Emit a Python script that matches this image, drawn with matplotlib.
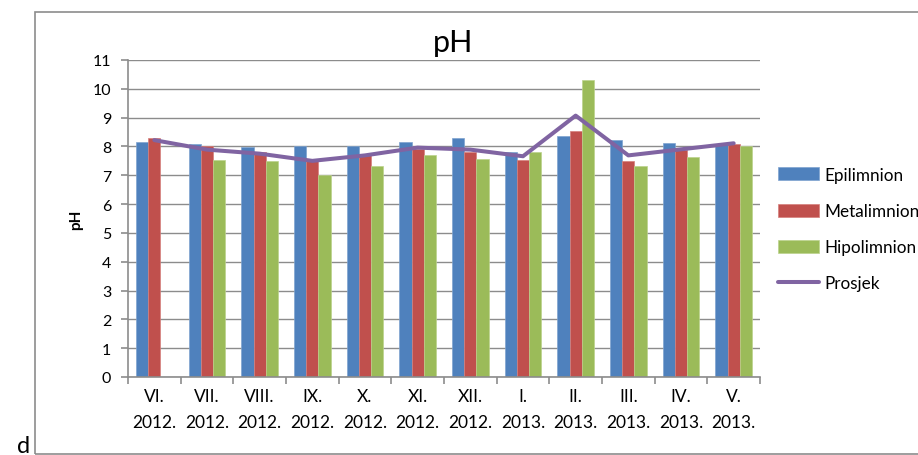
import numpy as np
import matplotlib
matplotlib.use("Agg")
import matplotlib.pyplot as plt
from matplotlib.patches import Rectangle

plt.rcParams["font.family"] = ["Lato", "DejaVu Sans"]

months = ["VI.\n2012.", "VII.\n2012.", "VIII.\n2012.", "IX.\n2012.", "X.\n2012.", "XI.\n2012.",
          "XII.\n2012.", "I.\n2013.", "II.\n2013.", "III.\n2013.", "IV.\n2013.", "V.\n2013."]
epilimnion = [8.16, 8.07, 7.98, 8.01, 8.01, 8.16, 8.29, 7.80, 8.38, 8.23, 8.11, 8.05]
metalimnion = [8.29, 8.01, 7.80, 7.50, 7.72, 7.92, 7.80, 7.54, 8.55, 7.48, 7.86, 8.08]
hipolimnion = [np.nan, 7.54, 7.48, 7.01, 7.32, 7.69, 7.57, 7.80, 10.29, 7.32, 7.64, 8.01]
prosjek = [8.22, 7.89, 7.75, 7.50, 7.69, 7.96, 7.89, 7.66, 9.07, 7.69, 7.90, 8.11]

W, H = 918, 456
fig = plt.figure(figsize=(W / 100, H / 100), dpi=100)
fig.patch.set_facecolor("white")

# outer chart frame
fig.patches.append(Rectangle((35 / W, 1 - 455 / H), (W - 35 + 5) / W, (455 - 13) / H,
                             transform=fig.transFigure, fill=False,
                             edgecolor="#8c8c8c", linewidth=1.2))

ax = fig.add_axes([128 / W, 1 - 378 / H, (760 - 128) / W, (378 - 61) / H])

x = np.arange(len(months))
bw = 0.23
grid_c = "#8c8c8c"
b1 = ax.bar(x - bw, epilimnion, bw, color="#4F81BD", edgecolor="#7fa3cf", linewidth=0.5,
            label="Epilimnion", zorder=2)
b2 = ax.bar(x, metalimnion, bw, color="#C0504D", edgecolor="#d57f7c", linewidth=0.5,
            label="Metalimnion", zorder=2)
b3 = ax.bar(x + bw, hipolimnion, bw, color="#9BBB59", edgecolor="#bcd38c", linewidth=0.5,
            label="Hipolimnion", zorder=2)
ln, = ax.plot(x, prosjek, color="#8064A2", linewidth=2.9, label="Prosjek", zorder=3,
              solid_capstyle="round")

ax.set_xlim(-0.5, len(months) - 0.5)
ax.set_ylim(0, 11)
ax.set_yticks(range(0, 12))
ax.yaxis.grid(True, color=grid_c, linewidth=1)
ax.set_axisbelow(True)
for s in ["top", "right"]:
    ax.spines[s].set_visible(False)
for s in ["left", "bottom"]:
    ax.spines[s].set_color(grid_c)
    ax.spines[s].set_linewidth(1.2)

ax.set_xticks(np.arange(-0.5, len(months)), minor=False)
ax.set_xticklabels([])
ax.set_xticks(x, minor=True)
ax.set_xticklabels(months, minor=True, fontsize=12.5, linespacing=1.75)
ax.tick_params(axis="x", which="major", length=5, color=grid_c, width=1.2)
ax.tick_params(axis="x", which="minor", length=0, pad=8)
ax.tick_params(axis="y", length=5, color=grid_c, width=1.2, labelsize=11.5, pad=7)

ax.set_ylabel("pH", fontsize=11, fontweight="bold", labelpad=7)
fig.text(453 / W, 1 - 43 / H, "pH", fontsize=22, ha="center", va="center")
fig.text(17 / W, 1 - 453 / H, "d", fontsize=17, ha="left", va="baseline")

fig.legend([b1, b2, b3, ln], ["Epilimnion", "Metalimnion", "Hipolimnion", "Prosjek"],
           loc="upper left", bbox_to_anchor=(771 / W, 1 - 161 / H), frameon=False,
           fontsize=12.3, handlelength=2.4, handleheight=0.8, labelspacing=1.18,
           handletextpad=0.3, borderaxespad=0)

fig.savefig("out.png", dpi=100)
